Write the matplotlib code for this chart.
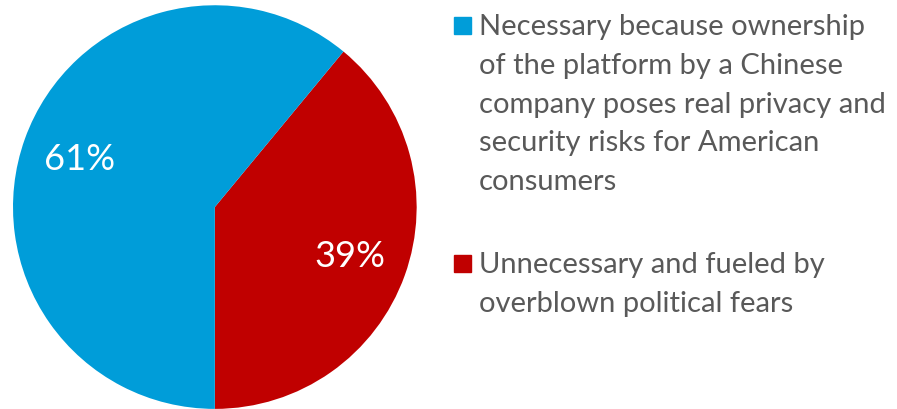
import matplotlib.pyplot as plt
from matplotlib.patches import Rectangle

labels = ["Unnecessary and fueled by\noverblown political fears",
          "Necessary because ownership\nof the platform by a Chinese\ncompany poses real privacy and\nsecurity risks for American\nconsumers"]
shares = [39, 61]
colors = ["#C00000", "#009DD9"]

plt.rcParams['font.family'] = ['Lato', 'DejaVu Sans']

fig = plt.figure(figsize=(8.97, 4.10), dpi=100)
ax = fig.add_axes([0.0145, 0.0, 0.45, 0.985])
ax.pie(shares, colors=colors, startangle=-90, counterclock=True,
       autopct='%d%%', pctdistance=0.71,
       textprops=dict(color='white', fontsize=26))
ax.set_xlim(-1, 1)
ax.set_ylim(-1, 1)
ax.set_aspect('equal')

# legend, blue first
legend_y = [1 - 26 / 410, 1 - 264 / 410]
for lab, col, y in zip(labels[::-1], colors[::-1], legend_y):
    fig.patches.append(Rectangle((454 / 897, y - 9 / 410), 17 / 897, 17 / 410,
                                 transform=fig.transFigure, color=col))
    fig.text(479 / 897, y + 12 / 410, lab, fontsize=21, color='#595959',
             va='top', ha='left', linespacing=1.61)

fig.savefig('out.png', dpi=100)
